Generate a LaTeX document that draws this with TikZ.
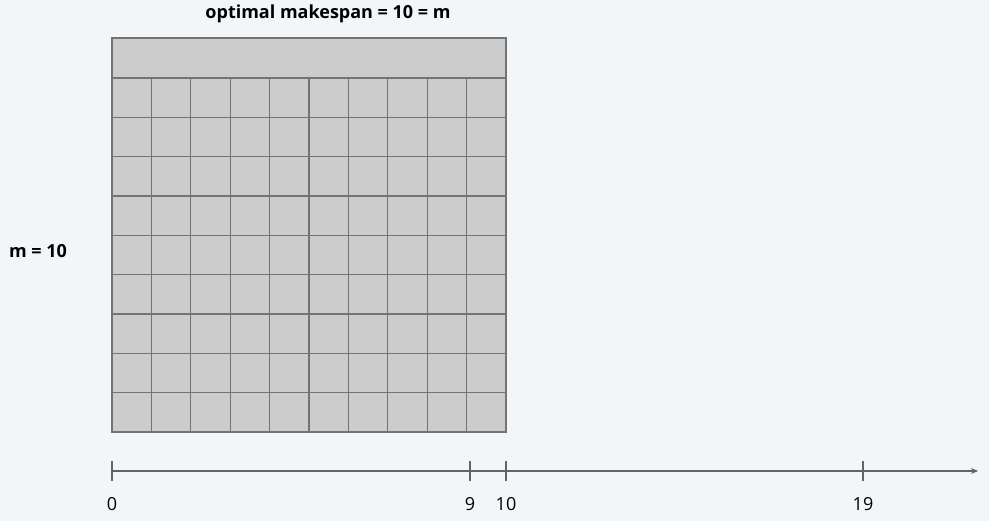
\documentclass[tikz,border=0pt]{standalone}
\usepackage{fontspec}
\setmainfont{Open Sans}
\usetikzlibrary{arrows.meta,positioning}
\definecolor{bgpale}{RGB}{242,246,249}
\definecolor{jobfill}{RGB}{204,204,204}
\definecolor{jobline}{RGB}{115,115,115}
\definecolor{axisgray}{RGB}{100,100,100}

\begin{document}
\begin{tikzpicture}[
  x=1pt, y=-1pt,
  every node/.style={font=\fontsize{18}{21}\selectfont},
  job/.style={draw=jobline, line width=1.1pt, fill=jobfill},
  axisline/.style={draw=axisgray, line width=1.6pt},
  title/.style={font=\fontsize{18}{21}\selectfont\bfseries}
]
\fill[bgpale] (0,0) rectangle (989,521);
\useasboundingbox (0,0) rectangle (989,521);

% long job on top
\draw[job] (112,38) rectangle (506,78);
% unit jobs, 9 rows of 10
\foreach \r in {0,...,8} {
  \foreach \c in {0,...,9} {
    \draw[job] ({112+39.4*\c},{78+39.33*\r}) rectangle ({112+39.4*(\c+1)},{78+39.33*(\r+1)});
  }
}

\node[title] (span) at (328,14) {optimal makespan = 10 = m};
\node[title] (mach) at (38,251) {m = 10};

% time axis
\coordinate (t0) at (112,471);
\coordinate (t9) at (470,471);
\coordinate (t10) at (506,471);
\coordinate (t19) at (863,471);
\coordinate (tend) at (978,471);
\draw[axisline, -{Stealth[length=7pt,width=6pt]}] (t0) -- (tend);
\foreach \t in {t0,t9,t10,t19}
  \draw[axisline, line width=1.2pt] ([yshift=-10pt]\t) -- ([yshift=10pt]\t);
\node[below=23pt of t0] (l0) {0};
\node[below=23pt of t9] (l9) {9};
\node[below=23pt of t10] (l10) {10};
\node[below=23pt of t19] (l19) {19};
\end{tikzpicture}
\end{document}
